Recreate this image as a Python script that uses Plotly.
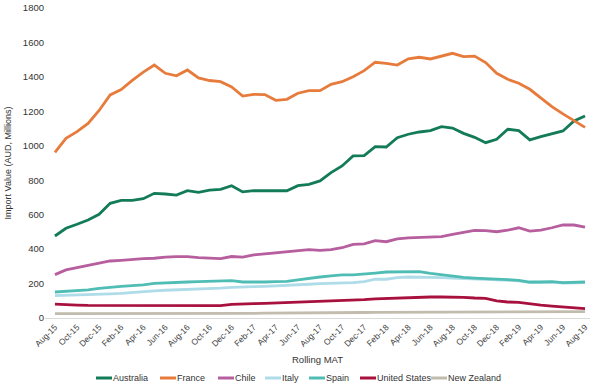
import plotly.graph_objects as go

months = ["Aug-15","Sep-15","Oct-15","Nov-15","Dec-15","Jan-16","Feb-16","Mar-16","Apr-16","May-16","Jun-16","Jul-16",
          "Aug-16","Sep-16","Oct-16","Nov-16","Dec-16","Jan-17","Feb-17","Mar-17","Apr-17","May-17","Jun-17","Jul-17",
          "Aug-17","Sep-17","Oct-17","Nov-17","Dec-17","Jan-18","Feb-18","Mar-18","Apr-18","May-18","Jun-18","Jul-18",
          "Aug-18","Sep-18","Oct-18","Nov-18","Dec-18","Jan-19","Feb-19","Mar-19","Apr-19","May-19","Jun-19","Jul-19",
          "Aug-19"]
tick_labels = months[::2]

australia = [476, 521, 544, 569, 602, 666, 683, 683, 693, 724, 720, 714, 739, 730, 743, 747, 768, 732, 739, 739,
             739, 739, 768, 776, 796, 844, 883, 941, 943, 995, 993, 1047, 1067, 1080, 1088, 1111, 1103, 1072, 1049,
             1018, 1038, 1096, 1088, 1034, 1053, 1068, 1086, 1144, 1173]
france = [962, 1043, 1082, 1130, 1205, 1295, 1326, 1380, 1428, 1469, 1421, 1406, 1440, 1394, 1379, 1372, 1342, 1289,
          1299, 1297, 1264, 1270, 1305, 1320, 1320, 1357, 1372, 1401, 1436, 1485, 1479, 1469, 1505, 1514, 1504, 1521,
          1537, 1518, 1521, 1483, 1421, 1386, 1363, 1328, 1276, 1227, 1185, 1144, 1107]
chile = [252, 279, 292, 304, 317, 331, 335, 341, 345, 347, 354, 356, 356, 350, 348, 345, 357, 354, 366, 373, 379, 385,
         391, 397, 393, 397, 408, 428, 430, 449, 443, 459, 465, 467, 467, 472, 486, 496, 509, 507, 501, 510, 524, 505,
         510, 524, 540, 540, 528]
italy = [130, 132, 132, 132, 136, 140, 143, 149, 153, 157, 161, 163, 165, 167, 170, 173, 178, 182, 182, 184, 186, 188,
         192, 196, 200, 201, 205, 205, 211, 225, 225, 234, 238, 238, 236, 234, 232, 230, 228, 226, 222, 220, 216, 206,
         206, 208, 202, 202, 206]
spain = [151, 155, 155, 163, 172, 180, 184, 188, 192, 201, 205, 205, 209, 211, 213, 213, 217, 209, 207, 209, 211, 213,
         221, 231, 238, 244, 250, 250, 254, 261, 267, 269, 270, 269, 259, 250, 244, 236, 232, 230, 225, 223, 219, 209,
         209, 211, 205, 205, 209]
united_states = [80, 76, 75, 73, 73, 74, 74, 74, 74, 73, 71, 71, 72, 71, 71, 72, 79, 79, 83, 85, 87, 89, 91, 93, 95,
                 97, 103, 103, 107, 111, 114, 116, 118, 120, 122, 122, 122, 120, 116, 114, 100, 93, 91, 81, 75, 69, 64,
                 58, 54]
new_zealand = [25, 25, 24, 24, 24, 23, 23, 24, 24, 24, 24, 24, 24, 24, 24, 25, 26, 27, 27, 28, 28, 29, 29, 30, 30, 31,
               31, 32, 32, 33, 33, 34, 34, 34, 35, 35, 35, 35, 35, 35, 35, 35, 36, 36, 36, 36, 36, 37, 37]

series_names = ["Australia", "France", "Chile", "Italy", "Spain", "United States", "New Zealand"]
series_values = [australia, france, chile, italy, spain, united_states, new_zealand]
series_colors = ["#137b58", "#e77b3c", "#b65e9e", "#aedce8", "#50bdb5", "#a8103e", "#c2bcae"]

# legend key layout (pixel x of each key's left edge) -- style only
L, R, T, B, W, H = 45, 10, 8, 74, 600, 392
PW, PH = W - L - R, H - T - B
legend_key_px = [96, 160, 218, 265, 309, 360, 431]
legend_y_px = 378
key_len = 16

fig = go.Figure()
for name, vals, color in zip(series_names, series_values, series_colors):
    fig.add_trace(go.Scatter(x=months, y=vals, name=name, mode="lines",
                             line=dict(color=color, width=2.8), showlegend=False))

ly = (H - B - legend_y_px) / PH
for name, color, px in zip(series_names, series_colors, legend_key_px):
    x0 = (px - L) / PW
    x1 = (px + key_len - L) / PW
    fig.add_shape(type="line", xref="paper", yref="paper", x0=x0, x1=x1, y0=ly, y1=ly,
                  line=dict(color=color, width=3))
    fig.add_annotation(xref="paper", yref="paper", x=x1, y=ly, text=name, showarrow=False,
                       xanchor="left", yanchor="middle", xshift=-1,
                       font=dict(size=9, color="#333333"))

font_family = "Arial, Liberation Sans, sans-serif"
fig.update_layout(
    width=W, height=H,
    margin=dict(l=L, r=R, t=T, b=B),
    paper_bgcolor="white", plot_bgcolor="white",
    font=dict(family=font_family, color="#333333", size=10),
    showlegend=False,
    xaxis=dict(
        type="category",
        range=[-0.9, 48.45],
        tickmode="array", tickvals=tick_labels, ticktext=tick_labels,
        tickangle=-45, tickfont=dict(size=8.5, color="#444444"),
        showgrid=False, showline=True, linecolor="#d9d9d9", linewidth=1,
        ticks="", zeroline=False, automargin=False,
        title=dict(text="Rolling MAT", font=dict(size=9.5, color="#333333"), standoff=8),
    ),
    yaxis=dict(
        range=[0, 1800], tickvals=[0, 200, 400, 600, 800, 1000, 1200, 1400, 1600, 1800],
        showgrid=False, zeroline=False, showline=False, ticks="", automargin=False,
        tickfont=dict(size=9.5, color="#333333"),
        title=dict(text="Import Value (AUD, Millions)", font=dict(size=9, color="#333333"), standoff=9),
    ),
)

fig.write_html("out.html", config={"displayModeBar": False},
               post_script="document.body.style.margin='0px';")
